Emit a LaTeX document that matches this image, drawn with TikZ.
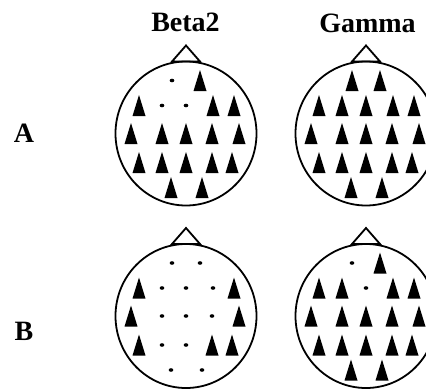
\documentclass[tikz,border=0pt]{standalone}
\usepackage{fontspec}
\setmainfont{Liberation Serif}
\begin{document}
\begin{tikzpicture}[x=1pt,y=-1pt,
  headline/.style={line width=1.8pt},
  panellabel/.style={font=\fontsize{28}{30}\selectfont\bfseries, inner sep=0pt, anchor=base}]
% 10-20 electrode layout, offsets from the head centre
\def\elecpos{-14/-53,14/-53,
  -47/-28,-24/-28,0/-28,27/-28,48/-28,
  -55/0,-24/0,0/0,26/0,53/0,
  -47/29,-24/29,0/29,26/29,46/29,
  -15/54,16/54}
% scalp map: centre x, centre y, electrode kinds (1 = triangle, 0 = dot)
\newcommand\scalpmap[3]{%
  \begin{scope}[shift={(#1,#2)}]
    \draw[headline] (0,0) ellipse [x radius=70.5, y radius=72];
    \draw[headline, line join=miter] (-14,-72) -- (0,-88) -- (14,-72) -- cycle;
    \foreach \ex/\ey [count=\i from 0] in \elecpos {
      \pgfmathtruncatemacro\kind{{#3}[\i]}
      \ifnum\kind=1
        \fill (\ex,\ey) +(0,-10.5) -- +(6.5,10.5) -- +(-6.5,10.5) -- cycle;
      \else
        \fill (\ex,\ey) ellipse [x radius=2.3, y radius=1.8];
      \fi
    }
  \end{scope}}
\useasboundingbox (0,0) rectangle (426,389);
\clip (0,0) rectangle (426,389);
\node[panellabel] (beta) at (185.5,31.7) {Beta2};
\node[panellabel] (gamma) at (367.5,32) {Gamma};
\node[panellabel] (rowA) at (24,142.3) {A};
\node[panellabel] (rowB) at (24,340.5) {B};
\scalpmap{186}{133.5}{0,1, 1,0,0,1,1, 1,1,1,1,1, 1,1,1,1,1, 1,1}
\scalpmap{366}{133.5}{1,1, 1,1,1,1,1, 1,1,1,1,1, 1,1,1,1,1, 1,1}
\scalpmap{186}{316}{0,0, 1,0,0,0,1, 1,0,0,0,1, 1,0,0,1,1, 0,0}
\scalpmap{366}{316}{0,1, 1,1,0,1,1, 1,1,1,1,1, 1,1,1,1,1, 1,1}
\end{tikzpicture}
\end{document}
